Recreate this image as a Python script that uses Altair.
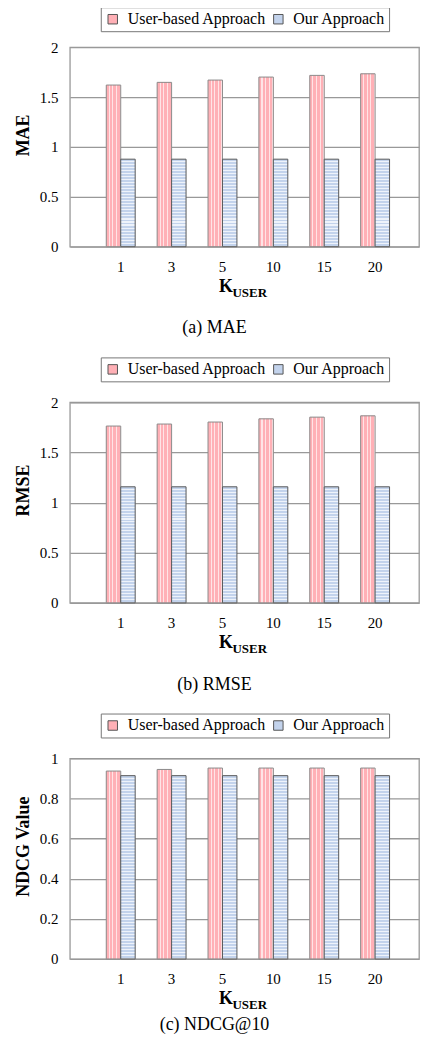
import altair as alt
import pandas as pd

# ---- data ----
k_values = ["1", "3", "5", "10", "15", "20"]
series_names = ["User-based Approach", "Our Approach"]

mae_user = [1.62, 1.647, 1.67, 1.70, 1.717, 1.733]
mae_ours = [0.877, 0.877, 0.877, 0.877, 0.877, 0.877]
mae_ticks = [0, 0.5, 1, 1.5, 2]

rmse_user = [1.763, 1.783, 1.803, 1.835, 1.852, 1.865]
rmse_ours = [1.157, 1.157, 1.157, 1.157, 1.157, 1.157]
rmse_ticks = [0, 0.5, 1, 1.5, 2]

ndcg_user = [0.937, 0.945, 0.952, 0.952, 0.952, 0.952]
ndcg_ours = [0.914, 0.914, 0.914, 0.914, 0.914, 0.914]
ndcg_ticks = [0, 0.2, 0.4, 0.6, 0.8, 1]

SERIF = "Liberation Serif"
PINK = "#ffb0b6"
PINK_LIGHT = "#ffe4e6"
BLUE = "#c3d3ec"
BLUE_LIGHT = "#eef3fb"
PLOT_W = 350


def stripes(base, light, n, light_frac, vertical_lines):
    stops = []
    for i in range(n):
        a = i / n
        b = (i + 1 - light_frac) / n
        c = (i + 1) / n
        stops += [
            {"offset": a, "color": base},
            {"offset": b, "color": base},
            {"offset": b, "color": light},
            {"offset": c, "color": light},
        ]
    if vertical_lines:
        return {"gradient": "linear", "x1": 0, "y1": 0, "x2": 1, "y2": 0, "stops": stops}
    return {"gradient": "linear", "x1": 0, "y1": 0, "x2": 0, "y2": 1, "stops": stops}


def panel(user, ours, ticks, ytitle, caption, height, legend_y, cap_offset):
    ymax = ticks[-1]
    df = pd.DataFrame({
        "k": k_values * 2,
        "series": [s for s in series_names for _ in k_values],
        "value": user + ours,
    })
    ours_px = max(ours) / ymax * height
    pink_grad = stripes(PINK, PINK_LIGHT, 4, 0.3, True)
    blue_grad = stripes(BLUE, BLUE_LIGHT, max(1, round(ours_px / 3)), 0.35, False)

    x = alt.X(
        "k:N", sort=k_values,
        scale=alt.Scale(paddingInner=0, paddingOuter=0.4314, align=0.5795),
        axis=alt.Axis(
            title="K", labelAngle=0, ticks=False, domain=False, labelPadding=13,
            labelFont=SERIF, labelFontSize=15, labelColor="#000",
            titleFont=SERIF, titleFontSize=18, titleFontWeight="bold", titleColor="#000",
            titleX=149, titleY=45, titleAlign="left", titleBaseline="alphabetic",
            grid=False,
        ),
    )
    y = alt.Y(
        "value:Q",
        scale=alt.Scale(domain=[0, ymax], nice=False),
        axis=alt.Axis(
            values=ticks, format="~g", title=ytitle, ticks=False, domain=False,
            labelPadding=12, labelFont=SERIF, labelFontSize=15, labelColor="#000",
            titleFont=SERIF, titleFontSize=18, titleFontWeight="bold", titleColor="#000",
            titleX=-46, titleY=88, titleAlign="center", titleBaseline="middle", titleAngle=270,
            grid=True, gridColor="#999", gridWidth=1.3,
        ),
    )
    xo = alt.XOffset("series:N", sort=series_names,
                     scale=alt.Scale(paddingInner=0, paddingOuter=0.76))

    base = alt.Chart(df).encode(x=x, y=y, xOffset=xo)
    legend_layer = base.mark_bar().encode(
        color=alt.Color(
            "series:N", sort=series_names,
            scale=alt.Scale(domain=series_names, range=[PINK, BLUE]),
            legend=alt.Legend(
                orient="none", legendX=31, legendY=legend_y, direction="horizontal",
                title=None, strokeColor="#777", fillColor="#fff", padding=4,
                labelFont=SERIF, labelFontSize=16, labelColor="#000",
                symbolType="square", symbolSize=90, symbolStrokeColor="#555",
                symbolStrokeWidth=1, labelOffset=7, columnPadding=4,
            ),
        )
    )
    pattern_layer = base.mark_bar(strokeWidth=1).encode(
        fill=alt.condition(alt.datum.series == series_names[0],
                           alt.value(pink_grad), alt.value(blue_grad)),
        stroke=alt.condition(alt.datum.series == series_names[0],
                             alt.value("#8c8c8c"), alt.value("#5a5a5a")),
    )
    sub = alt.Chart(pd.DataFrame({"sub": ["USER"]})).mark_text(
        font=SERIF, fontSize=13, fontWeight="bold", align="left",
        baseline="alphabetic", color="#000",
    ).encode(text="sub:N", x=alt.value(163), y=alt.value(height + 50))

    return alt.layer(legend_layer, pattern_layer, sub).properties(
        width=PLOT_W, height=height,
        title=alt.TitleParams(
            caption, orient="bottom", font=SERIF, fontSize=18, fontWeight="normal",
            color="#000", frame="group", anchor="middle", dx=-30, offset=cap_offset,
        ),
    )


p1 = panel(mae_user, mae_ours, mae_ticks, "MAE", "(a) MAE", 200, -40, 20)
p2 = panel(rmse_user, rmse_ours, rmse_ticks, "RMSE", "(b) RMSE", 201, -45, 20)
p3 = panel(ndcg_user, ndcg_ours, ndcg_ticks, "NDCG Value", "(c) NDCG@10", 201, -45, 4)

chart = alt.vconcat(p1, p2, p3, spacing=17).resolve_scale(
    color="independent", y="independent", x="independent", xOffset="independent"
).resolve_legend(color="independent").properties(
    padding={"left": 6, "top": -4, "right": 0, "bottom": -2}
).configure_view(stroke="#999", strokeWidth=1.3, fill="#fff")

chart.save("out.html", embed_options={"renderer": "svg", "actions": False})
